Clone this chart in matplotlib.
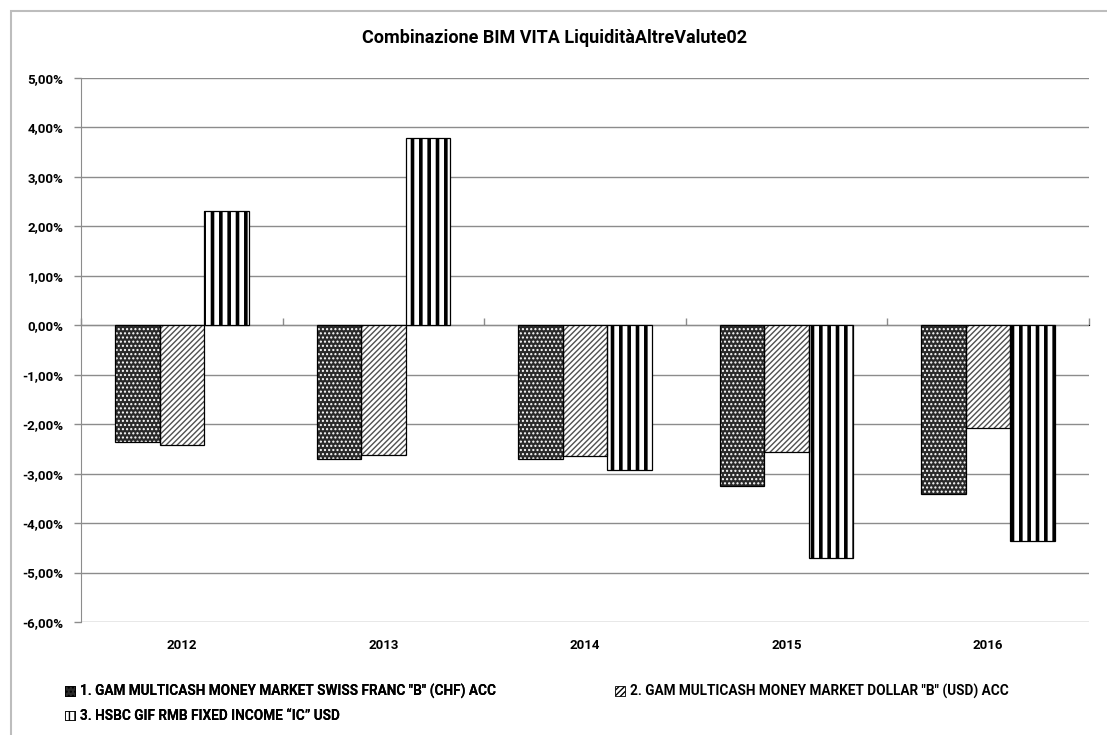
import matplotlib
matplotlib.use("Agg")
import matplotlib.pyplot as plt
import matplotlib.patches as mpatches
from matplotlib.ticker import FuncFormatter, MultipleLocator
import numpy as np

title = "Combinazione BIM VITA LiquiditàAltreValute02"
years = ["2012", "2013", "2014", "2015", "2016"]
series_names = [
    '1. GAM MULTICASH MONEY MARKET SWISS FRANC "B" (CHF) ACC',
    '2. GAM MULTICASH MONEY MARKET DOLLAR "B" (USD) ACC',
    '3. HSBC GIF RMB FIXED INCOME \u201cIC\u201d USD',
]
s1 = [-2.37, -2.70, -2.70, -3.24, -3.42]
s2 = [-2.43, -2.62, -2.65, -2.57, -2.07]
s3 = [2.31, 3.79, -2.92, -4.70, -4.37]

plt.rcParams['font.family'] = ['Roboto', 'DejaVu Sans']
W, H = 1107, 735
fig = plt.figure(figsize=(W / 100, H / 100), dpi=100)
ax = fig.add_axes([81 / W, 1 - 622 / H, (1089 - 81) / W, (622 - 78) / H])

x = np.arange(len(years))
bw = 0.221
styles = [
    dict(facecolor='#2a2a2a', hatch='....', hcolor='white', hlw=1.0),
    dict(facecolor='white', hatch='//////', hcolor='#505050', hlw=1.0),
    dict(facecolor='white', hatch='||', hcolor='black', hlw=2.6),
]
handles = []
for i, (vals, st) in enumerate(zip([s1, s2, s3], styles)):
    pos = x + (i - 1) * bw
    bars = ax.bar(pos, vals, width=bw, facecolor=st['facecolor'], edgecolor=st['hcolor'],
                  hatch=st['hatch'], linewidth=0, zorder=3)
    for b in bars:
        if hasattr(b, 'set_hatch_linewidth'):
            b.set_hatch_linewidth(st['hlw'])
    ax.bar(pos, vals, width=bw, fill=False, edgecolor='black', linewidth=0.9, zorder=4)
    h = mpatches.Patch(facecolor=st['facecolor'], edgecolor='black',
                       hatch=st['hatch'] if i < 2 else '|||', linewidth=0.6)
    handles.append(h)

ymin, ymax = -6, 5
ax.set_ylim(ymin, ymax)
ax.set_xlim(-0.5, len(years) - 0.5)
ax.yaxis.set_major_locator(MultipleLocator(1))
ax.yaxis.set_major_formatter(FuncFormatter(lambda v, p: f"{v:.2f}%".replace('.', ',')))
ax.grid(axis='y', color='#8c8c8c', linewidth=1.0, zorder=0)
ax.set_axisbelow(True)
for s in ['top', 'right', 'bottom']:
    ax.spines[s].set_visible(False)
ax.spines['left'].set_color('#8c8c8c')
ax.tick_params(axis='y', length=5, color='#8c8c8c', width=1, labelsize=9.5, pad=7.5)
ax.set_xticks(x)
ax.set_xticklabels(years)
ax.tick_params(axis='x', length=0, labelsize=9.5, pad=12)
for lab in ax.get_xticklabels() + ax.get_yticklabels():
    lab.set_fontweight('bold')

sec = ax.secondary_xaxis((0 - ymin) / (ymax - ymin))
sec.set_xticks(np.arange(len(years) + 1) - 0.5)
sec.set_xticklabels([])
sec.tick_params(axis='x', direction='out', length=5, color='#8c8c8c', width=1)
sec.spines['bottom'].set_color('#8c8c8c')

fig.text(555 / W, 1 - 38 / H, title, ha='center', va='center', fontsize=13, fontweight='bold')

legprops = dict(frameon=False, handlelength=0.75, handleheight=0.75, handletextpad=0.35,
                labelspacing=0.75, borderaxespad=0, borderpad=0,
                prop=dict(weight='bold', size=9.8))
leg1 = fig.legend([handles[0], handles[2]], [series_names[0], series_names[2]],
                  loc='upper left', bbox_to_anchor=(65 / W, 1 - 684 / H), **legprops)
fig.add_artist(leg1)
leg2 = fig.legend([handles[1]], [series_names[1]],
                  loc='upper left', bbox_to_anchor=(615 / W, 1 - 684 / H), **legprops)

border = mpatches.Rectangle((11 / W, -0.1), 1.2, 1 - 11 / H + 0.1, transform=fig.transFigure,
                            fill=False, edgecolor='#bdbdbd', linewidth=1.5)
fig.patches.append(border)

fig.savefig("out.png", dpi=100)
